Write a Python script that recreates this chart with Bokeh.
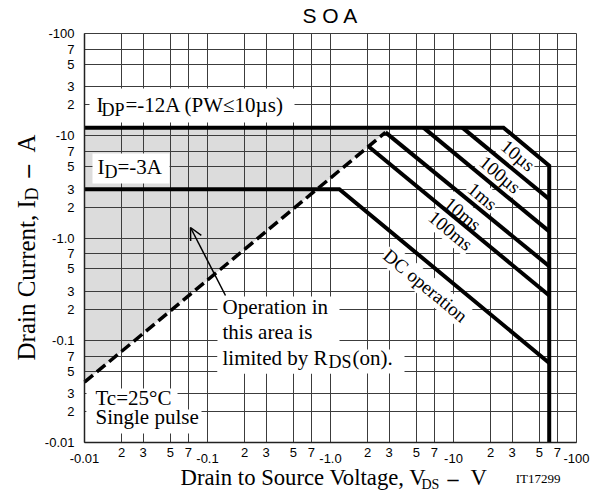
import math
from bokeh.plotting import figure
from bokeh.models import Label, BoxAnnotation, Arrow, OpenHead, FixedTicker, Grid, LogAxis
from bokeh.embed import file_html
from bokeh.resources import INLINE

# ---------------- data ----------------
tick_values = [0.01, 0.02, 0.03, 0.05, 0.07, 0.1, 0.2, 0.3, 0.5, 0.7,
               1, 2, 3, 5, 7, 10, 20, 30, 50, 70, 100]
x_tick_labels = ["-0.01", "2", "3", "5", "7", "-0.1", "2", "3", "5", "7",
                 "-1.0", "2", "3", "5", "7", "-10", "2", "3", "5", "7", "-100"]
y_tick_labels = ["-0.01", "2", "3", "5", "7", "-0.1", "2", "3", "5", "7",
                 "-1.0", "2", "3", "5", "7", "-10", "2", "3", "5", "7", "-100"]

# SOA boundaries: |VDS| in V, |ID| in A
pw10us_v = [0.01, 25.5, 60, 60]
pw10us_i = [12, 12, 5.1, 0.01]
pw100us_v = [11.8, 60]
pw100us_i = [12, 2.4]
pw1ms_v = [5.7, 60]
pw1ms_i = [12, 1.16]
pw10ms_v = [2.8, 60]
pw10ms_i = [10.8, 0.53]
pw100ms_v = [2.04, 60]
pw100ms_i = [7.85, 0.274]
dc_v = [0.01, 1.18, 60]
dc_i = [3, 3, 0.06]
rds_v = [0.01, 2.8]
rds_i = [0.0389, 10.8]

curve_label_text = ["10µs", "100µs", "1ms", "10ms", "100ms", "DC operation"]
curve_label_v = [33.4, 23.9, 17.2, 11.9, 9.46, 5.92]
curve_label_i = [6.41, 4.18, 2.55, 1.72, 1.18, 0.343]

# ---------------- layout ----------------
W, H = 602, 491
FL, FT, FW, FH = 84, 33, 492, 409      # chart box on the canvas, px
DX, DY = FW / 4, FH / 4                # px per decade
SERIF = "Liberation Serif"
SANS = "Liberation Sans"
XMIN, XMAX = tick_values[0], tick_values[-1]
YMIN, YMAX = tick_values[0], tick_values[-1]

# the frame covers the whole canvas; the chart box sits inside it
x_lo = 10 ** (math.log10(XMIN) - FL / DX)
x_hi = 10 ** (math.log10(XMAX) + (W - FL - FW) / DX)
y_hi = 10 ** (math.log10(YMAX) + FT / DY)
y_lo = 10 ** (math.log10(YMIN) - (H - FT - FH) / DY)


def xd(px):
    return 10 ** (math.log10(XMIN) + (px - FL) / DX)


def yd(py):
    return 10 ** (math.log10(YMAX) - (py - FT) / DY)


def is_decade(t):
    return abs(math.log10(t) - round(math.log10(t))) < 1e-9


p = figure(width=W, height=H, x_axis_type="log", y_axis_type="log",
           x_range=(x_lo, x_hi), y_range=(y_lo, y_hi),
           output_backend="svg", toolbar_location=None,
           min_border=0, min_border_left=0, min_border_right=0,
           min_border_top=0, min_border_bottom=0)
p.background_fill_color = "white"
p.border_fill_color = "white"
p.outline_line_color = None


def style_axis(ax):
    ax.fixed_location = XMIN
    ax.bounds = (XMIN, XMAX)
    ax.major_tick_in = 0
    ax.major_tick_out = 0
    ax.minor_tick_in = 0
    ax.minor_tick_out = 0
    ax.major_tick_line_color = None
    ax.minor_tick_line_color = None
    ax.major_label_text_font = SANS
    ax.major_label_text_font_size = "13px"
    ax.major_label_text_color = "black"


xaxis = p.xaxis[0]
yaxis = p.yaxis[0]
for ax in (xaxis, yaxis):
    ax.ticker = FixedTicker(ticks=tick_values)
    style_axis(ax)
    ax.axis_line_color = "#222222"
    ax.axis_line_width = 1.5
yaxis.major_label_overrides = dict(zip(tick_values, y_tick_labels))
yaxis.major_label_standoff = 10
# x: intermediate labels on the main axis, decade labels a little lower
xaxis.major_label_overrides = {t: ("" if is_decade(t) else l)
                               for t, l in zip(tick_values, x_tick_labels)}
xaxis.major_label_standoff = 5
dec_ticks = [t for t in tick_values if is_decade(t)]
dec_axis = LogAxis(ticker=FixedTicker(ticks=dec_ticks),
                   major_label_overrides={t: l for t, l in zip(tick_values, x_tick_labels)
                                          if is_decade(t)},
                   axis_line_color=None, major_label_standoff=11)
style_axis(dec_axis)
p.add_layout(dec_axis, "below")

p.xgrid.ticker = FixedTicker(ticks=tick_values)
p.ygrid.ticker = FixedTicker(ticks=tick_values)
if "cross_bounds" in Grid.properties():
    p.xgrid.bounds = (XMIN, XMAX)
    p.ygrid.bounds = (YMIN, YMAX)
    p.xgrid.cross_bounds = (YMIN, YMAX)
    p.ygrid.cross_bounds = (XMIN, XMAX)
    p.grid.grid_line_color = "#3c3c3c"
    p.grid.grid_line_alpha = 1
    p.grid.grid_line_width = 1
else:
    p.grid.visible = False
    n = len(tick_values)
    p.segment(x0=tick_values, y0=[YMIN] * n, x1=tick_values, y1=[YMAX] * n,
              line_color="#3c3c3c", line_width=1, level="underlay")
    p.segment(x0=[XMIN] * n, y0=tick_values, x1=[XMAX] * n, y1=tick_values,
              line_color="#3c3c3c", line_width=1, level="underlay")

# shaded area limited by RDS(on)
idp = pw10us_i[0]
v_at_idp = rds_v[1] * idp / rds_i[1]
p.patch([rds_v[0], v_at_idp, rds_v[0]], [rds_i[0], idp, idp],
        fill_color="#dcdcdc", line_color=None, level="image")

# SOA lines
for v, i in [(pw10us_v, pw10us_i), (pw100us_v, pw100us_i), (pw1ms_v, pw1ms_i),
             (pw10ms_v, pw10ms_i), (pw100ms_v, pw100ms_i), (dc_v, dc_i)]:
    p.line(v, i, line_color="black", line_width=4, line_join="miter")
p.line(rds_v, rds_i, line_color="black", line_width=3.5, line_dash="11 5")

# rotated curve labels (under the thick lines, over the grid)
ang = -math.atan(DY / DX)
for t, v, i in zip(curve_label_text, curve_label_v, curve_label_i):
    p.add_layout(Label(x=v, y=i, text=t, angle=ang, text_align="center",
                       text_baseline="middle", text_font=SERIF,
                       text_font_size="19px", text_color="black",
                       background_fill_color="white", padding=1,
                       level="underlay"))


def white_box(x0, x1, y0, y1):
    p.add_layout(BoxAnnotation(left=xd(x0), right=xd(x1), top=yd(y0), bottom=yd(y1),
                               fill_color="white", fill_alpha=1, line_color=None))


def label(px, py, text, size, font=SERIF, align="left", angle=0.0, **kw):
    # (px, py) is the text baseline start; place the text by its middle
    k = 0.34 * size
    mx = px - math.sin(angle) * k
    my = py - math.cos(angle) * k
    p.add_layout(Label(x=xd(mx), y=yd(my), text=text, text_font=font,
                       text_font_size=f"{size}px", text_align=align,
                       text_baseline="middle", angle=angle,
                       text_color="black", **kw))


# white boxes behind annotations
white_box(89, 294, 88, 122)     # IDP
white_box(92, 169, 153, 183)    # ID
white_box(217, 339, 296, 373)   # Operation in / this area is
white_box(217, 404, 349, 373)   # limited by RDS(on).
white_box(86, 177, 388, 411)    # Tc=25°C
white_box(86, 201, 409, 433)    # Single pulse

# annotations
label(96, 112, "I", 21)
label(101, 116, "DP", 18)
label(125, 112, "=-12A (PW≤10µs)", 21)

label(97, 174, "I", 21)
label(104, 178, "D", 18)
label(117, 174, "=-3A", 21)

label(222, 314, "Operation in", 21)
label(222, 339, "this area is", 21)
label(222, 365, "limited by R", 21)
label(328, 368, "DS", 18)
label(352, 365, "(on).", 21)

label(95, 405, "Tc=25°C", 21)
label(95, 424, "Single pulse", 21)

p.add_layout(Arrow(end=OpenHead(size=12, line_width=1.5, line_color="black"),
                   x_start=xd(225), y_start=yd(295), x_end=xd(190), y_end=yd(227),
                   line_width=1.5, line_color="black"))

# title
label(330, 22, "S O A", 21, font=SANS, align="center")

# x axis title
label(180, 485, "Drain to Source Voltage, V", 22.7)
label(421, 489, "DS", 14)
label(447, 485, "–", 22, text_font_style="bold")
label(470, 485, "V", 22.7)
label(560, 482, "IT17299", 13, align="right")

# y axis title (rotated)
up = math.pi / 2
label(34, 360, "Drain Current, I", 25, angle=up)
label(38, 200, "D", 18, angle=up)
label(34, 177, "–", 25, angle=up, text_font_style="bold")
label(34, 152, "A", 25, angle=up)

open("out.html", "w").write(file_html(p, INLINE))
